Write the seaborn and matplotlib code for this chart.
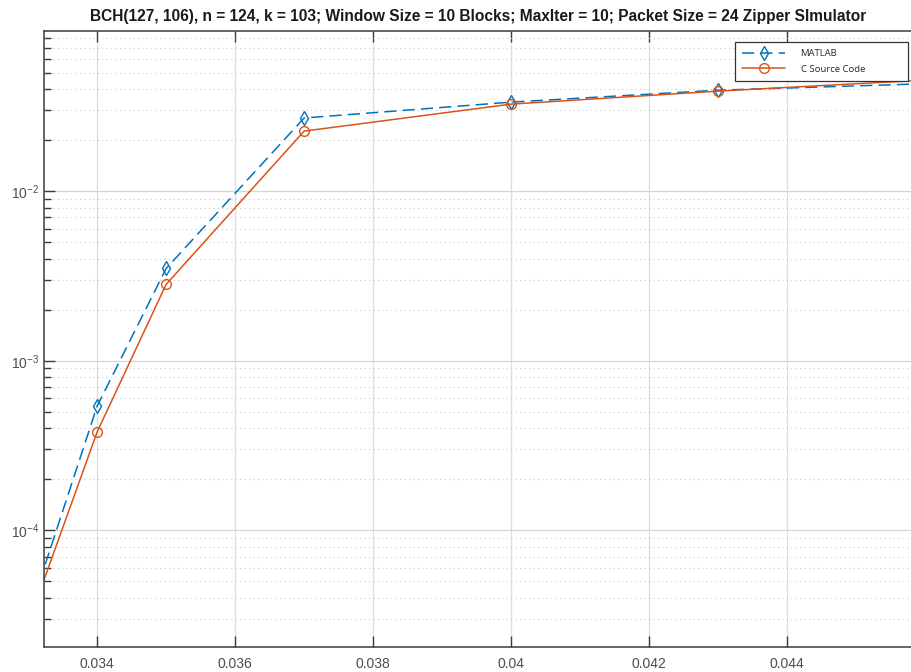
import numpy as np
import pandas as pd
import matplotlib
matplotlib.use("Agg")
import matplotlib.pyplot as plt
from matplotlib.ticker import LogLocator, FixedLocator, NullFormatter
import seaborn as sns

# Crossover probability values and block error rates for both simulators
p_values = [0.033, 0.034, 0.035, 0.037, 0.040, 0.043, 0.046]
ber_matlab = [3.1e-5, 5.4e-4, 3.5e-3, 0.0270, 0.0335, 0.0394, 0.0430]
ber_c = [2.8e-5, 3.8e-4, 2.82e-3, 0.0226, 0.0326, 0.0389, 0.0452]
series_names = ["MATLAB", "C Source Code"]
x_ticks = [0.034, 0.036, 0.038, 0.040, 0.042, 0.044]
x_tick_labels = ["0.034", "0.036", "0.038", "0.04", "0.042", "0.044"]

title = ("BCH(127, 106), n = 124, k = 103; Window Size = 10 Blocks; "
         "MaxIter = 10; Packet Size = 24 Zipper SImulator")

sns.set_style("white")
plt.rcParams["font.family"] = ["Liberation Sans", "DejaVu Sans"]
plt.rcParams["mathtext.fontset"] = "custom"
plt.rcParams["mathtext.rm"] = "Liberation Sans"

fig = plt.figure(figsize=(9.12, 6.72), dpi=100)
ax = fig.add_axes([44 / 912, 1 - 647 / 672, 1 - 44 / 912, (647 - 31) / 672])

blue = "#0072BD"
orange = "#D95319"

df_m = pd.DataFrame({"p": p_values, "ber": ber_matlab})
df_c = pd.DataFrame({"p": p_values, "ber": ber_c})

sns.lineplot(data=df_m, x="p", y="ber", ax=ax, color=blue, linewidth=1.1,
             linestyle=(0, (8, 4)), marker="d", markersize=7,
             markerfacecolor="none", markeredgecolor=blue, markeredgewidth=1.0,
             label=series_names[0], sort=False)
sns.lineplot(data=df_c, x="p", y="ber", ax=ax, color=orange, linewidth=1.1,
             marker="o", markersize=7, markerfacecolor="none",
             markeredgecolor=orange, markeredgewidth=1.0,
             label=series_names[1], sort=False)

ax.set_yscale("log")
ax.set_xlim(0.03323, 0.04581)
ax.set_ylim(2.05e-5, 0.088)

ax.xaxis.set_major_locator(FixedLocator(x_ticks))
ax.set_xticklabels(x_tick_labels)
ax.yaxis.set_major_locator(LogLocator(base=10))
ax.yaxis.set_minor_locator(LogLocator(base=10, subs=np.arange(2, 10)))
ax.yaxis.set_minor_formatter(NullFormatter())

ax.set_xlabel("")
ax.set_ylabel("")
ax.set_title(title, fontsize=11.2, fontweight="bold", color="#1a1a1a", pad=7)

# Grid: solid major lines, dotted minor lines on the log axis
ax.grid(True, which="major", axis="x", color="#dedede", linewidth=0.9, linestyle="-")
ax.grid(True, which="major", axis="y", color="#d6d6d6", linewidth=0.9, linestyle="-")
ax.grid(True, which="minor", axis="y", color="#cacaca", linewidth=0.8, linestyle=(0, (1, 3)))
ax.set_axisbelow(True)

spine_c = "#3c3c3c"
for side in ["left", "bottom", "top"]:
    ax.spines[side].set_visible(True)
    ax.spines[side].set_color(spine_c)
    ax.spines[side].set_linewidth(1.1)
ax.spines["right"].set_visible(False)

ax.tick_params(axis="both", which="major", direction="in", length=8, width=1.0,
               color=spine_c, labelsize=10, labelcolor="#4d4d4d")
ax.tick_params(axis="y", which="minor", direction="in", length=5, width=1.0, color=spine_c)
ax.tick_params(axis="x", which="both", top=True, bottom=True)
ax.tick_params(axis="y", which="both", left=True, right=False)
ax.tick_params(axis="x", pad=7)

# Legend box stretched over a fixed region in the upper right corner
leg = ax.legend(loc="upper left", bbox_to_anchor=(0.796, 0.920, 0.199, 0.062),
                mode="expand", borderaxespad=0, frameon=True, fancybox=False,
                edgecolor="#333333", framealpha=1, handlelength=4.6,
                borderpad=0.75, labelspacing=0.7, handletextpad=1.6,
                prop={"family": ["Open Sans", "DejaVu Sans"], "size": 6.8})
leg.get_frame().set_linewidth(0.9)

fig.savefig("out.png", dpi=100)
